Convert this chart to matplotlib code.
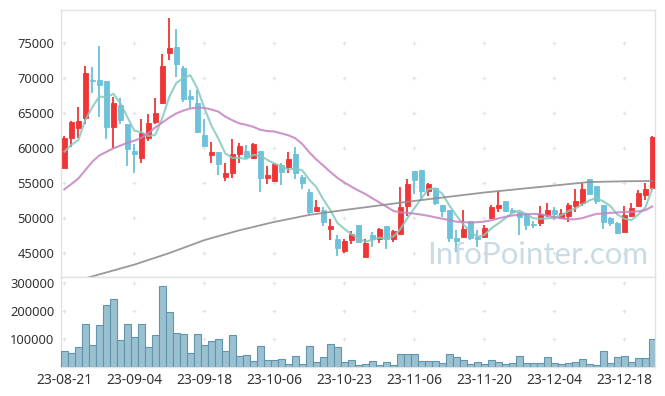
import matplotlib.pyplot as plt
import numpy as np
import pandas as pd

# 일봉 데이터 (23-08-21 ~ 23-12-22)
opens = [57050, 61340, 62860, 64200, 69720, 69620, 69530, 63000, 66050, 63390,
         59530, 58580, 61430, 63720, 66430, 73580, 74390, 71390, 67390, 66340,
         61810, 59000, 59390, 55770, 56340, 59050, 59530, 58580, 59530, 55720,
         55290, 57530, 57290, 59100, 55770, 53620, 51000, 51100, 48340, 46910,
         45290, 46810, 48960, 44430, 47530, 46910, 48810, 46910, 47670, 51670,
         56670, 56810, 53860, 54290, 51810, 51100, 47050, 47290, 49580, 47200,
         47290, 49910, 51430, 52390, 51100, 50860, 50480, 49100, 49200, 50390,
         51100, 49910, 50240, 51670, 52150, 55480, 54530, 51810, 49910, 49200,
         48000, 50240, 51670, 53240, 54200]
highs = [61720, 63810, 65770, 71720, 71480, 74530, 69530, 67200, 67050, 63390,
         60480, 64100, 64770, 67050, 73340, 78480, 76910, 71670, 68240, 68240,
         64050, 60860, 59390, 57770, 61200, 60720, 60390, 60720, 59530, 57390,
         57770, 57770, 59340, 60050, 56100, 54050, 52530, 51580, 49770, 47530,
         46900, 48100, 48960, 46910, 48000, 48480, 48810, 48240, 54340, 55480,
         56670, 56810, 55000, 54290, 51810, 51100, 48240, 51100, 49580, 48240,
         48960, 51810, 53860, 52390, 51340, 50860, 50480, 49600, 51670, 52050,
         51480, 51200, 52050, 54050, 54910, 55480, 54530, 51810, 50150, 49430,
         51670, 52050, 53960, 54910, 61720]
lows = [57050, 60050, 61340, 63390, 67770, 64340, 61200, 59910, 63340, 57390,
        56340, 57770, 61000, 63340, 66240, 72530, 70150, 66580, 65620, 62050,
        60290, 57860, 56100, 55240, 55620, 57770, 58480, 58340, 53620, 54810,
        55150, 54670, 56430, 55480, 54050, 50480, 51000, 48860, 46810, 44530,
        44900, 46200, 46580, 44430, 45860, 46340, 45480, 46580, 47670, 50240,
        53340, 52530, 53100, 51810, 50150, 46580, 45150, 47290, 46810, 45860,
        47050, 49770, 50860, 50860, 50620, 47530, 48240, 48600, 48810, 50150,
        49670, 49770, 49430, 50860, 51670, 53390, 51960, 48390, 48810, 47620,
        48000, 50150, 51480, 52530, 53960]
closes = [61340, 63620, 63810, 70670, 69530, 68960, 63000, 66340, 63960, 59770,
          59050, 62050, 63480, 64910, 71670, 74240, 71960, 66960, 66960, 62290,
          60290, 59390, 57620, 56340, 59100, 60240, 58720, 60530, 55720, 56100,
          57670, 56580, 58340, 56340, 54910, 50860, 51480, 49430, 48810, 45720,
          46670, 47620, 46580, 46340, 46910, 48340, 46910, 48100, 51480, 54810,
          55390, 53860, 54810, 52050, 51000, 47050, 46720, 48340, 47150, 46950,
          48480, 51480, 51810, 50960, 50770, 50050, 48960, 48900, 50530, 51100,
          50530, 50720, 51810, 52390, 54050, 53390, 52430, 49430, 49200, 47860,
          50390, 51340, 53480, 54100, 61480]
volumes = [57600, 50400, 72000, 154800, 79200, 151200, 223200, 244800, 97200, 154800,
           108000, 154800, 72000, 115200, 291600, 198000, 122400, 118800, 50400, 118800,
           79200, 93600, 100800, 57600, 115200, 39600, 43200, 21600, 75600, 25200,
           25200, 28800, 10800, 39600, 10800, 75600, 18000, 36000, 82800, 72000,
           18000, 25200, 7200, 10800, 21600, 7200, 18000, 7200, 46800, 46800,
           46800, 21600, 21600, 21600, 14400, 46800, 36000, 25200, 10800, 18000,
           10800, 25200, 18000, 10800, 14400, 39600, 14400, 14400, 14400, 36000,
           14400, 10800, 14400, 18000, 28800, 10800, 7200, 57600, 14400, 36000,
           39600, 18000, 32400, 32400, 100800]

# 화면 이전 데이터가 필요한 이동평균 앞부분
ma5_head = [59430, 60390, 61100, 63960]
ma20_head = [54050, 54800, 55600, 56800, 58000, 58900, 59400, 59900, 60300, 60700,
             61000, 61400, 62060, 62900, 63600, 64300, 64900, 65300, 65600]
ma_long_idx = [0, 5, 10, 15, 20, 25, 30, 35, 40, 45, 50, 55, 60, 65, 70, 75, 80, 84]
ma_long = [40500, 41900, 43300, 44950, 46800, 48200, 49400, 50400, 51100, 51750,
           52400, 53000, 53600, 54100, 54600, 55100, 55200, 55250]

tick_pos = [0, 10, 20, 30, 40, 50, 60, 70, 80]
tick_labels = ['23-08-21', '23-09-04', '23-09-18', '23-10-06', '23-10-23',
               '23-11-06', '23-11-20', '23-12-04', '23-12-18']

plt.rcParams['font.family'] = ['Noto Sans', 'DejaVu Sans']

RED = '#ef3535'
BLUE = '#6cc2da'

o = np.array(opens)
c = np.array(closes)
x = np.arange(len(c))
colors = np.where(c >= o, RED, BLUE)

fig = plt.figure(figsize=(6.65, 3.96), dpi=100)
ax = fig.add_axes([0.0922, 0.3005, 0.8928, 0.6742])
axv = fig.add_axes([0.0922, 0.0725, 0.8928, 0.228], sharex=ax)

# 격자 대신 + 표시
gx, gy = np.meshgrid(tick_pos, np.arange(45000, 80000, 5000))
ax.scatter(gx, gy, marker='+', s=12, color='#e3e3e3', linewidths=0.8, zorder=1)
gx, gy = np.meshgrid(tick_pos, [100000, 200000, 300000])
axv.scatter(gx, gy, marker='+', s=12, color='#e3e3e3', linewidths=0.8, zorder=1)

# 캔들
ax.vlines(x, lows, highs, colors=colors, lw=1.3, zorder=3)
ax.bar(x, np.abs(c - o), bottom=np.minimum(o, c), width=0.7,
       color=colors, edgecolor=colors, lw=0.6, zorder=4)

# 이동평균
s = pd.Series(closes, dtype=float)
ma5 = s.rolling(5).mean()
ma5.iloc[:4] = ma5_head
ma20 = s.rolling(20).mean()
ma20.iloc[:19] = ma20_head
ax.plot(x, ma5, color='#84c8bd', lw=1.5, alpha=0.85, zorder=5)
ax.plot(x, ma20, color='#c583c2', lw=1.5, alpha=0.85, zorder=5)
ax.plot(ma_long_idx, ma_long, color='#8e8e8e', lw=1.3, alpha=0.9, zorder=5)

# 거래량
axv.bar(x, volumes, width=1.0, color='#99c1d0', edgecolor='#6394ad', lw=0.8, zorder=3)

ax.set_xlim(-0.43, 84.39)
ax.set_ylim(41530, 79670)
axv.set_ylim(0, 322500)

ax.set_yticks(np.arange(45000, 80000, 5000))
axv.set_yticks([100000, 200000, 300000])
axv.set_xticks(tick_pos)
axv.set_xticklabels(tick_labels)
ax.tick_params(axis='x', labelbottom=False, length=0)
ax.tick_params(axis='y', length=0, labelsize=9.3, labelcolor='#333333', pad=5)
axv.tick_params(axis='y', length=0, labelsize=9.3, labelcolor='#333333', pad=5)
axv.tick_params(axis='x', length=0, labelsize=10, labelcolor='#333333', pad=4)

for a in (ax, axv):
    for sp in a.spines.values():
        sp.set_color('#e2e2e2')
        sp.set_linewidth(1.0)

fig.text(0.975, 0.355, 'InfoPointer.com', ha='right', va='center',
         fontsize=22.5, color='#b8cfdc', alpha=0.75,
         family=['Lato', 'DejaVu Sans'], zorder=10)

fig.savefig('out.png', dpi=100)
